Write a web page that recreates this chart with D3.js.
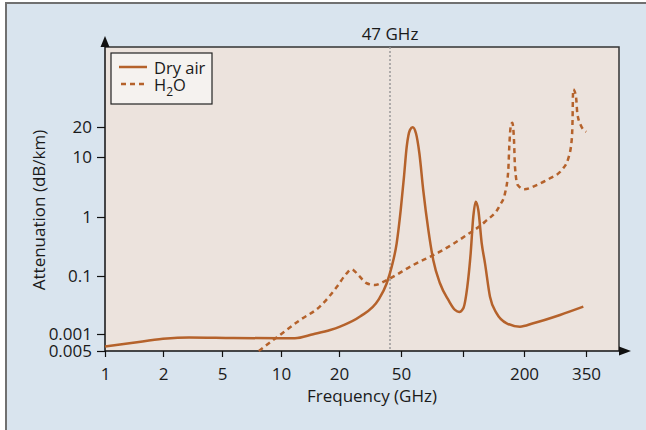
<!DOCTYPE html>
<html>
<head>
<meta charset="utf-8">
<script src="https://cdn.jsdelivr.net/npm/d3@7"></script>
<style>
  body { margin: 0; background: #fff; }
  #chart1 { width: 646px; height: 430px; }
  text { font-family: "Open Sans", "Noto Sans", sans-serif; fill: #1a1a1a; }
</style>
</head>
<body>
<div id="chart1"></div>
<script>
// tick values (x in GHz, y in dB/km) and the labels printed on the picture
const xTicks = [1, 2, 5, 10, 20, 50, 100, 200, 350];
const xTickLabels = ["1", "2", "5", "10", "20", "50", "", "200", "350"];
const yTicks = [0.005, 0.01, 0.1, 1, 10, 20];
const yTickLabels = ["0.005", "0.001", "0.1", "1", "10", "20"];

// dry air attenuation
const dryFreq = [1, 1.4, 2, 3, 5.7, 10, 11.8, 14.7, 18, 20.3, 27.3, 35.8, 40.5, 43.6, 46.9, 49.8,
  51.7, 53.3, 55.3, 57, 59.1, 61.4, 64.1, 67.9, 71.7, 77.3, 84.9, 91.4, 95.9, 100.3,
  105, 109.1, 112.4, 115.5, 119, 123.7, 128.4, 135.9, 146.6, 164.3, 191, 217.5, 276.8, 341.6];
const dryAtten = [0.006, 0.007, 0.0082, 0.0087, 0.0085, 0.0084, 0.0084, 0.0099, 0.0117, 0.0134, 0.02, 0.0386, 0.075, 0.144, 0.358, 1.31,
  4.7, 12.7, 18.7, 19.9, 17.3, 10.9, 2.82, 0.6, 0.187, 0.075, 0.0386, 0.026, 0.024, 0.0277,
  0.065, 0.242, 1.01, 1.8, 1.31, 0.358, 0.164, 0.044, 0.0227, 0.0153, 0.0134, 0.0153, 0.0213, 0.0296];

// water vapour attenuation
const h2oFreq = [7.7, 9.5, 12.55, 15.9, 19.5, 22.4, 24.1, 26.6, 30.1, 34, 40.5, 57.4, 77.3, 104.3,
  128.4, 152.3, 161.2, 167.3, 169.2, 171.9, 175.1, 178.5, 180.5, 186.2, 200.5, 224.3, 252.9,
  281, 298.4, 307.6, 310, 311, 312, 319.8, 323.6, 333.6, 350.8];
const h2oAtten = [0.005, 0.0087, 0.0174, 0.0296, 0.065, 0.111, 0.13, 0.104, 0.075, 0.07, 0.085, 0.154, 0.258, 0.495,
  0.83, 1.58, 2.48, 6.07, 12.7, 20.1, 22.1, 14.8, 6.89, 3.41, 2.9, 3.41, 4.42,
  6.07, 9.5, 14.8, 23.5, 40.3, 47.8, 40.3, 27.5, 20.9, 17.9];

const markerFreq = 42.5;
const markerLabel = "47 GHz";

const container = d3.select("#chart1");

const svgWidth = 646;
const svgHeight = 430;
const margin = { top: 47, right: 27, bottom: 79, left: 105 };
const width = svgWidth - margin.left - margin.right;
const height = svgHeight - margin.top - margin.bottom;

const lineColor = "#b5622b";
const fontSize = "17px";

const root = container.append("svg")
  .attr("width", svgWidth)
  .attr("height", svgHeight);

// panel background with frame on top/left
root.append("rect")
  .attr("x", 6).attr("y", 3)
  .attr("width", svgWidth - 6).attr("height", svgHeight - 3)
  .attr("fill", "#d9e4ee");
root.append("path")
  .attr("d", `M6,${svgHeight} V3 H${svgWidth}`)
  .attr("fill", "none")
  .attr("stroke", "#707070")
  .attr("stroke-width", 2);

const svg = root.append("g")
  .attr("transform", `translate(${margin.left}, ${margin.top})`);

// axes are piecewise on log values, the original spacing is not a true log scale
const xLog = d3.scaleLinear()
  .domain(xTicks.map(Math.log10))
  .range([0, 58, 117, 176, 234, 296, 358, 419, 481]);
const yLog = d3.scaleLinear()
  .domain(yTicks.map(Math.log10))
  .range([height, height - 17, height - 75, height - 134, height - 194, height - 224]);

const x = f => xLog(Math.log10(f));
const y = a => yLog(Math.log10(a));

// plot background
svg.append("rect")
  .attr("width", width)
  .attr("height", height)
  .attr("fill", "#ece3dd");

// top and right frame
svg.append("path")
  .attr("d", `M0,0 H${width} V${height}`)
  .attr("fill", "none")
  .attr("stroke", "#333")
  .attr("stroke-width", 1.5);

// 47 GHz marker
svg.append("line")
  .attr("x1", x(markerFreq)).attr("x2", x(markerFreq))
  .attr("y1", 0).attr("y2", height)
  .attr("stroke", "#999")
  .attr("stroke-width", 1.5)
  .attr("stroke-dasharray", "2 2");

svg.append("text")
  .attr("x", x(markerFreq))
  .attr("y", -7)
  .attr("text-anchor", "middle")
  .style("font-size", fontSize)
  .text(markerLabel);

// x axis
const xAxis = svg.append("g")
  .attr("transform", `translate(0, ${height})`)
  .call(d3.axisBottom(xLog)
    .tickValues(xTicks.map(Math.log10))
    .tickFormat((d, i) => xTickLabels[i])
    .tickSize(6)
    .tickSizeOuter(0)
    .tickPadding(11));

// y axis
const yAxis = svg.append("g")
  .call(d3.axisLeft(yLog)
    .tickValues(yTicks.map(Math.log10))
    .tickFormat((d, i) => yTickLabels[i])
    .tickSize(8)
    .tickSizeOuter(0)
    .tickPadding(5));

[xAxis, yAxis].forEach(a => {
  a.select(".domain").remove();
  a.selectAll(".tick line").attr("stroke", "#111").attr("stroke-width", 1.2);
  a.selectAll(".tick text")
    .style("font-size", fontSize)
    .style("font-family", "'Open Sans', 'Noto Sans', sans-serif")
    .attr("fill", "#1a1a1a");
});

// axis lines with arrows
svg.append("line")
  .attr("x1", 0).attr("x2", width + 3)
  .attr("y1", height).attr("y2", height)
  .attr("stroke", "#111").attr("stroke-width", 1.5);
svg.append("path")
  .attr("d", `M${width},${height - 4.5} L${width + 12},${height} L${width},${height + 4.5} Z`)
  .attr("fill", "#111");
svg.append("line")
  .attr("x1", 0).attr("x2", 0)
  .attr("y1", height).attr("y2", -2)
  .attr("stroke", "#111").attr("stroke-width", 1.5);
svg.append("path")
  .attr("d", `M-4.5,0 L0,-11 L4.5,0 Z`)
  .attr("fill", "#111");

// axis titles
svg.append("text")
  .attr("x", 267)
  .attr("y", height + 51)
  .attr("text-anchor", "middle")
  .style("font-size", fontSize)
  .text("Frequency (GHz)");

svg.append("text")
  .attr("transform", "rotate(-90)")
  .attr("x", -163)
  .attr("y", -60)
  .attr("text-anchor", "middle")
  .style("font-size", fontSize)
  .text("Attenuation (dB/km)");

// line generator
const line = d3.line()
  .x(d => x(d[0]))
  .y(d => y(d[1]))
  .curve(d3.curveMonotoneX);

const dry = dryFreq.map((f, i) => [f, dryAtten[i]]);
const h2o = h2oFreq.map((f, i) => [f, h2oAtten[i]]);

svg.append("path")
  .datum(h2o)
  .attr("fill", "none")
  .attr("stroke", lineColor)
  .attr("stroke-width", 2.5)
  .attr("stroke-dasharray", "5 4")
  .attr("d", line);

svg.append("path")
  .datum(dry)
  .attr("fill", "none")
  .attr("stroke", lineColor)
  .attr("stroke-width", 2.5)
  .attr("d", line);

// legend
const legend = svg.append("g")
  .attr("transform", "translate(6, 6)");

legend.append("rect")
  .attr("width", 101)
  .attr("height", 51)
  .attr("fill", "#f5f2ef")
  .attr("stroke", "#222")
  .attr("stroke-width", 1.2);

legend.append("line")
  .attr("x1", 8).attr("x2", 36)
  .attr("y1", 14).attr("y2", 14)
  .attr("stroke", lineColor)
  .attr("stroke-width", 2.5);

legend.append("text")
  .attr("x", 43)
  .attr("y", 21)
  .style("font-size", "16.5px")
  .text("Dry air");

legend.append("line")
  .attr("x1", 10).attr("x2", 36)
  .attr("y1", 31).attr("y2", 31)
  .attr("stroke", lineColor)
  .attr("stroke-width", 2.5)
  .attr("stroke-dasharray", "5 4");

const h2oText = legend.append("text")
  .attr("x", 43)
  .attr("y", 37.5)
  .style("font-size", "16.5px");
h2oText.append("tspan").text("H");
h2oText.append("tspan").attr("dy", 5).style("font-size", "12px").text("2");
h2oText.append("tspan").attr("dy", -5).text("O");
</script>
</body>
</html>
